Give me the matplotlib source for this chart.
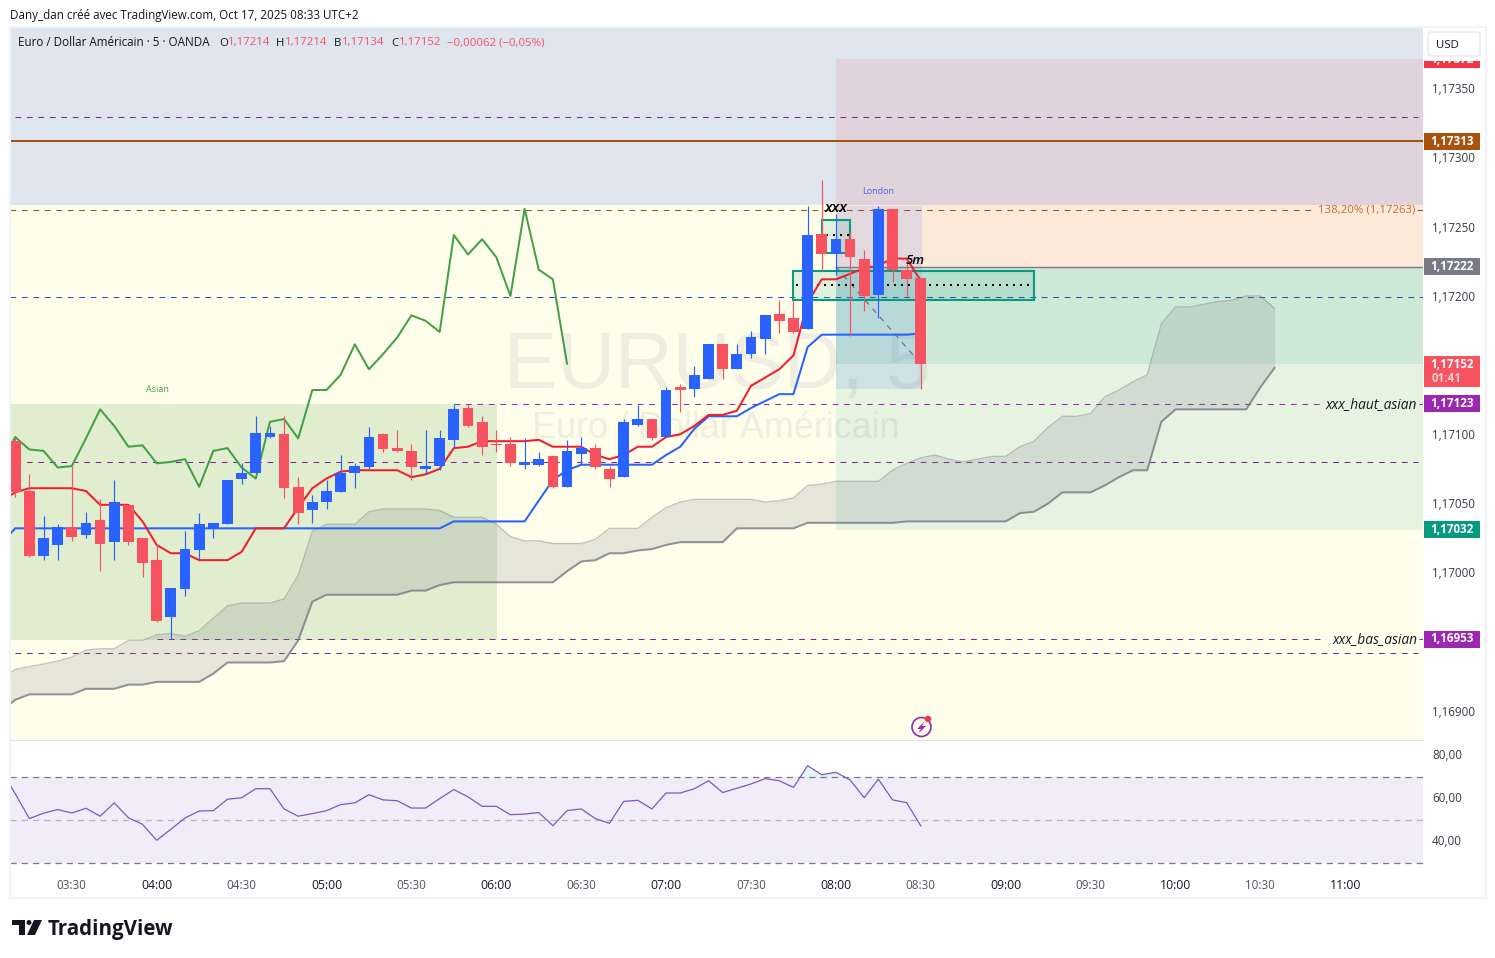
import numpy as np
import matplotlib
matplotlib.use("Agg")
import matplotlib.pyplot as plt
import matplotlib.transforms as mtransforms
from matplotlib.patches import Rectangle, FancyBboxPatch, Circle, Polygon

plt.rcParams['font.family'] = ['Open Sans', 'DejaVu Sans']

W, H = 1495, 958

# candles, 5 min bars, first bar is 03:10
opens = [1.17096, 1.17060, 1.17013, 1.17021, 1.17034, 1.17028, 1.17039, 1.17023, 1.17050, 1.17026,
         1.17010, 1.16969, 1.16989, 1.17017, 1.17033, 1.17036, 1.17069, 1.17073, 1.17099, 1.17101,
         1.17063, 1.17046, 1.17052, 1.17059, 1.17073, 1.17077, 1.17101, 1.17091, 1.17089, 1.17076,
         1.17078, 1.17097, 1.17120, 1.17110, 1.17094, 1.17094, 1.17079, 1.17079, 1.17085, 1.17063,
         1.17087, 1.17091, 1.17076, 1.17070, 1.17108, 1.17112, 1.17099, 1.17135, 1.17134, 1.17141,
         1.17166, 1.17148, 1.17159, 1.17170, 1.17188, 1.17185, 1.17177, 1.17246, 1.17231, 1.17242,
         1.17228, 1.17202, 1.17264, 1.17220, 1.17214]
highs = [1.17098, 1.17072, 1.17042, 1.17036, 1.17078, 1.17045, 1.17054, 1.17068, 1.17050, 1.17026,
         1.17022, 1.16990, 1.17031, 1.17044, 1.17037, 1.17068, 1.17080, 1.17114, 1.17107, 1.17114,
         1.17070, 1.17057, 1.17068, 1.17086, 1.17080, 1.17106, 1.17102, 1.17104, 1.17094, 1.17104,
         1.17104, 1.17123, 1.17123, 1.17114, 1.17104, 1.17099, 1.17098, 1.17088, 1.17086, 1.17097,
         1.17099, 1.17094, 1.17078, 1.17112, 1.17122, 1.17112, 1.17135, 1.17137, 1.17150, 1.17166,
         1.17166, 1.17166, 1.17176, 1.17187, 1.17198, 1.17198, 1.17266, 1.17285, 1.17260, 1.17248,
         1.17234, 1.17266, 1.17264, 1.17228, 1.17214]
lows = [1.17056, 1.17012, 1.17010, 1.17010, 1.17024, 1.17026, 1.17002, 1.17010, 1.17021, 1.16998,
        1.16965, 1.16953, 1.16984, 1.17011, 1.17026, 1.17036, 1.17065, 1.17073, 1.17098, 1.17055,
        1.17036, 1.17037, 1.17047, 1.17059, 1.17062, 1.17076, 1.17088, 1.17088, 1.17068, 1.17072,
        1.17075, 1.17091, 1.17106, 1.17086, 1.17088, 1.17078, 1.17076, 1.17078, 1.17062, 1.17063,
        1.17079, 1.17076, 1.17063, 1.17070, 1.17107, 1.17097, 1.17099, 1.17117, 1.17128, 1.17141,
        1.17141, 1.17148, 1.17156, 1.17159, 1.17174, 1.17174, 1.17177, 1.17219, 1.17216, 1.17172,
        1.17190, 1.17185, 1.17211, 1.17200, 1.17134]
closes = [1.17059, 1.17013, 1.17026, 1.17034, 1.17027, 1.17037, 1.17022, 1.17052, 1.17023, 1.17008,
          1.16966, 1.16990, 1.17018, 1.17036, 1.17037, 1.17068, 1.17073, 1.17102, 1.17102, 1.17062,
          1.17044, 1.17052, 1.17060, 1.17073, 1.17078, 1.17099, 1.17090, 1.17089, 1.17077, 1.17078,
          1.17098, 1.17119, 1.17107, 1.17092, 1.17093, 1.17080, 1.17081, 1.17083, 1.17063, 1.17089,
          1.17091, 1.17077, 1.17069, 1.17110, 1.17112, 1.17098, 1.17133, 1.17133, 1.17144, 1.17166,
          1.17148, 1.17159, 1.17171, 1.17187, 1.17183, 1.17175, 1.17245, 1.17231, 1.17242, 1.17229,
          1.17201, 1.17264, 1.17220, 1.17213, 1.17152]

# indicator lines, these start one bar before the first candle
tenkan = [1.17053,
          1.17059, 1.17062, 1.17062, 1.17062, 1.17062, 1.17060, 1.17050, 1.17050, 1.17050, 1.17038,
          1.17021, 1.17015, 1.17015, 1.17010, 1.17010, 1.17010, 1.17016, 1.17033, 1.17033, 1.17033,
          1.17048, 1.17062, 1.17069, 1.17074, 1.17075, 1.17075, 1.17075, 1.17075, 1.17070, 1.17072,
          1.17076, 1.17091, 1.17092, 1.17096, 1.17096, 1.17096, 1.17096, 1.17097, 1.17092, 1.17092,
          1.17092, 1.17086, 1.17083, 1.17086, 1.17092, 1.17092, 1.17099, 1.17101, 1.17107, 1.17115,
          1.17115, 1.17118, 1.17136, 1.17142, 1.17148, 1.17158, 1.17196, 1.17213, 1.17213, 1.17217,
          1.17221, 1.17223, 1.17228, 1.17228, 1.17212]
kijun = [1.17022,
         1.17033, 1.17033, 1.17033, 1.17033, 1.17033, 1.17033, 1.17033, 1.17033, 1.17033, 1.17033,
         1.17033, 1.17033, 1.17033, 1.17033, 1.17033, 1.17033, 1.17033, 1.17033, 1.17033, 1.17033,
         1.17033, 1.17033, 1.17033, 1.17033, 1.17033, 1.17033, 1.17033, 1.17033, 1.17033, 1.17033,
         1.17033, 1.17038, 1.17038, 1.17038, 1.17038, 1.17038, 1.17038, 1.17053, 1.17068, 1.17075,
         1.17079, 1.17079, 1.17079, 1.17079, 1.17079, 1.17079, 1.17086, 1.17092, 1.17105, 1.17114,
         1.17114, 1.17114, 1.17120, 1.17125, 1.17130, 1.17130, 1.17164, 1.17173, 1.17173, 1.17173,
         1.17173, 1.17173, 1.17173, 1.17173, 1.17174]
chikou = closes[24:]

# cloud, runs 25 bars past the last candle
span_up = [1.16924,
           1.16931, 1.16933, 1.16935, 1.16937, 1.16940, 1.16945, 1.16946, 1.16946, 1.16952, 1.16952,
           1.16956, 1.16957, 1.16955, 1.16959, 1.16968, 1.16977, 1.16979, 1.16979, 1.16979, 1.16982,
           1.16999, 1.17031, 1.17036, 1.17036, 1.17036, 1.17045, 1.17047, 1.17047, 1.17047, 1.17047,
           1.17046, 1.17041, 1.17041, 1.17041, 1.17036, 1.17027, 1.17024, 1.17024, 1.17022, 1.17022,
           1.17022, 1.17025, 1.17033, 1.17033, 1.17033, 1.17041, 1.17048, 1.17052, 1.17054, 1.17054,
           1.17054, 1.17054, 1.17054, 1.17052, 1.17053, 1.17055, 1.17064, 1.17065, 1.17067, 1.17067,
           1.17067, 1.17067, 1.17075, 1.17080, 1.17084, 1.17086, 1.17083, 1.17081, 1.17083, 1.17085,
           1.17085, 1.17092, 1.17096, 1.17106, 1.17114, 1.17114, 1.17116, 1.17128, 1.17133, 1.17139,
           1.17144, 1.17181, 1.17193, 1.17193, 1.17195, 1.17197, 1.17198, 1.17201, 1.17201, 1.17192]
span_low = [1.16901,
            1.16909, 1.16913, 1.16913, 1.16913, 1.16913, 1.16917, 1.16917, 1.16917, 1.16920, 1.16920,
            1.16922, 1.16922, 1.16922, 1.16922, 1.16928, 1.16936, 1.16936, 1.16936, 1.16936, 1.16937,
            1.16952, 1.16980, 1.16985, 1.16985, 1.16985, 1.16985, 1.16985, 1.16985, 1.16988, 1.16988,
            1.16992, 1.16994, 1.16994, 1.16994, 1.16994, 1.16994, 1.16994, 1.16994, 1.16994, 1.17002,
            1.17009, 1.17010, 1.17015, 1.17015, 1.17017, 1.17018, 1.17021, 1.17023, 1.17023, 1.17023,
            1.17023, 1.17033, 1.17033, 1.17033, 1.17033, 1.17033, 1.17037, 1.17037, 1.17037, 1.17037,
            1.17037, 1.17037, 1.17037, 1.17038, 1.17038, 1.17038, 1.17038, 1.17038, 1.17038, 1.17038,
            1.17038, 1.17044, 1.17045, 1.17051, 1.17059, 1.17059, 1.17059, 1.17064, 1.17070, 1.17075,
            1.17075, 1.17110, 1.17119, 1.17119, 1.17119, 1.17119, 1.17119, 1.17119, 1.17135, 1.17149]

rsi = [73.4,
       62.4, 50.8, 53.3, 55.0, 53.4, 55.6, 51.9, 58.1, 51.2, 48.1,
       40.7, 45.8, 51.1, 54.3, 54.5, 59.8, 60.5, 64.7, 64.7, 55.3,
       51.9, 53.1, 54.5, 57.3, 58.1, 61.9, 59.5, 59.1, 55.7, 55.7,
       60.1, 64.3, 60.9, 56.5, 56.5, 52.6, 52.9, 53.6, 47.5, 54.5,
       55.3, 50.8, 48.6, 58.8, 59.3, 55.3, 62.7, 62.7, 64.7, 68.4,
       62.9, 64.9, 66.9, 69.4, 68.4, 65.3, 75.4, 71.2, 72.3, 68.8,
       60.5, 69.1, 59.5, 58.2, 47.4]

price_ticks = [1.16900, 1.17000, 1.17050, 1.17100, 1.17200, 1.17250, 1.17300, 1.17350]
rsi_ticks = [40, 60, 80]
time_pos = [4, 10, 16, 22, 28, 34, 40, 46, 52, 58, 64, 70, 76, 82, 88, 94]
time_labels = ['03:30', '04:00', '04:30', '05:00', '05:30', '06:00', '06:30', '07:00',
               '07:30', '08:00', '08:30', '09:00', '09:30', '10:00', '10:30', '11:00']

price_tags = [(1.17313, '#a8530f'), (1.17222, '#787b86'), (1.17123, '#9c27b0'),
              (1.17032, '#089981'), (1.16953, '#9c27b0')]

BLUE = '#2962ff'
RED = '#f7525f'
PURPLE = '#9c27b0'
DARK_PURPLE = '#7b2a96'
TEAL = '#089981'

def x_idx(px):
    return (px - 15.2) / 14.15

def y_price(py):
    return 1.16953 + (639 - py) / 138333

def y_px(p):
    return 639 - (p - 1.16953) * 138333

px_tf = mtransforms.Affine2D().scale(1, -1).translate(0, H)

fig = plt.figure(figsize=(W / 100, H / 100), dpi=100, facecolor='white')
ax = fig.add_axes([10 / W, 1 - 739 / H, 1413 / W, 712 / H])
ax2 = fig.add_axes([10 / W, 1 - 872 / H, 1413 / W, 132 / H], sharex=ax)
tick_up = mtransforms.ScaledTranslation(0, 1.5 / 100, fig.dpi_scale_trans)

left, right = x_idx(10), x_idx(1423)
ax.set_xlim(left, right)
ax.set_ylim(y_price(739), y_price(27))
ax.set_facecolor('#fffeeb')
for a in (ax, ax2):
    for s in a.spines.values():
        s.set_visible(False)

ax.yaxis.tick_right()
ax.set_yticks(price_ticks)
ax.set_yticklabels([('%.5f' % p).replace('.', ',') for p in price_ticks])
ax.tick_params(axis='y', length=0, pad=6.5, labelsize=8.4, labelcolor='#363a45')
ax.tick_params(axis='x', length=0, labelbottom=False)
for lab in ax.get_yticklabels():
    lab.set_transform(lab.get_transform() + tick_up)

# background zones
ax.axhspan(y_price(205), y_price(27), color='#dee5ee', lw=0, zorder=0.5)
ax.add_patch(Rectangle((left, 1.16952), 34.05 - left, 1.17123 - 1.16952, color='#e0edcf', lw=0, zorder=0.6))

wm = dict(transform=px_tf, family='Liberation Sans', color='#efeee0', ha='center', zorder=0.7)
ax.text(717, 388, 'EURUSD, 5', fontsize=57.6, va='baseline', **wm)
ax.text(716, 438, 'Euro / Dollar Américain', fontsize=25.9, va='baseline', **wm)

# position tool
ax.add_patch(Rectangle((58, 1.17222), right - 58, 1.17372 - 1.17222, color='#f23645', alpha=0.10, lw=0, zorder=0.8))
ax.add_patch(Rectangle((58, 1.17032), right - 58, 1.17222 - 1.17032, color=TEAL, alpha=0.10, lw=0, zorder=0.8))
ax.add_patch(Rectangle((58, 1.17152), right - 58, 1.17222 - 1.17152, color=TEAL, alpha=0.10, lw=0, zorder=0.8))
ax.plot([58, right], [1.17222, 1.17222], color='#787b86', lw=1, zorder=1)
ax.plot([58, 64], [1.17222, 1.17152], color='#787b86', lw=1, ls=(0, (4, 4)), zorder=1)

# London session box
ax.add_patch(Rectangle((58, 1.17134), 6.1, 1.17266 - 1.17134, color=BLUE, alpha=0.12, lw=0, zorder=0.9))
ax.text(878, 191, 'London', transform=px_tf, color='#4f62dc', fontsize=6.5, ha='center', va='center')
ax.text(157, 389, 'Asian', transform=px_tf, color='#43a047', fontsize=6.5, ha='center', va='center')

# level lines
dash = (0, (5.5, 5.5))
for p, c, x0, x1 in [(1.17330, DARK_PURPLE, 0, x_idx(1418)), (1.17081, DARK_PURPLE, 0, x_idx(1418)),
                     (1.16943, DARK_PURPLE, 0, x_idx(1418)), (1.17200, '#2a52c0', left, right),
                     (1.17123, PURPLE, 31, x_idx(1320)), (1.17123, PURPLE, x_idx(1419), right),
                     (1.16953, DARK_PURPLE, 10, x_idx(1326)), (1.16953, DARK_PURPLE, x_idx(1419), right),
                     (1.17263, '#8a5a2a', left, x_idx(1314)), (1.17263, '#8a5a2a', x_idx(1417), right)]:
    ax.plot([x0, x1], [p, p], color=c, lw=0.75, ls=dash, zorder=1.1)
ax.plot([left, right], [1.17313, 1.17313], color='#a8530f', lw=1.45, zorder=1.2)

ax.text(1415, 210, '138,20% (1,17263)', transform=px_tf, color='#c4692a', fontsize=8.2, ha='right', va='center')
ax.text(1417, 405, 'xxx_haut_asian', transform=px_tf, color='#131722', fontsize=9.9, style='italic', ha='right', va='center')
ax.text(1417, 640, 'xxx_bas_asian', transform=px_tf, color='#131722', fontsize=9.9, style='italic', ha='right', va='center')

# teal boxes
ax.add_patch(Rectangle((55, 1.17198), 17, 1.17219 - 1.17198, fc=(8 / 255, 153 / 255, 129 / 255, 0.12), ec=TEAL, lw=1.5, zorder=1.3))
ax.add_patch(Rectangle((57, 1.17232), 2, 1.17256 - 1.17232, fc=(8 / 255, 153 / 255, 129 / 255, 0.12), ec=TEAL, lw=1.5, zorder=1.3))
dots = (0, (1, 2.5))
ax.plot([55.2, 71.7], [1.17209, 1.17209], color='black', lw=1.44, ls=dots, zorder=1.4)
ax.plot([57.3, 58.9], [1.17245, 1.17245], color='black', lw=1.44, ls=dots, zorder=1.4)
ax.text(836, 208, 'xxx', transform=px_tf, color='black', fontsize=11, style='italic', fontweight='semibold', ha='center', va='center', zorder=5)
ax.text(915, 260, '5m', transform=px_tf, color='black', fontsize=9.5, style='italic', fontweight='semibold', ha='center', va='center', zorder=5)

# cloud
xc = np.arange(-1, len(span_up) - 1)
ax.fill_between(xc, span_low, span_up, color='#787b86', alpha=0.19, lw=0, zorder=1.5)
ax.plot(xc, span_up, color='#787b86', alpha=0.45, lw=0.9, zorder=1.6)
ax.plot(xc, span_low, color='#787b86', alpha=0.8, lw=1.45, zorder=1.6)

# ichimoku lines
ax.plot(np.arange(-1, len(chikou) - 1), chikou, color='#43a047', lw=1.45, zorder=2)
ax.plot(np.arange(-1, len(kijun) - 1), kijun, color=BLUE, lw=1.45, zorder=2.1)
ax.plot(np.arange(-1, len(tenkan) - 1), tenkan, color='#f01e2c', lw=1.45, zorder=2.2)

# candles
xb = np.arange(len(closes))
o, h, l, c = map(np.array, (opens, highs, lows, closes))
col = np.where(c >= o, BLUE, RED)
ax.vlines(xb, l, h, colors=col, lw=0.85, zorder=3)
ax.bar(xb, np.abs(c - o), bottom=np.minimum(o, c), width=0.76, color=col, lw=0, zorder=3.1)

# RSI pane
xr = np.arange(-1, len(rsi) - 1)
ax2.set_ylim(50 - (872 - 820.3) / 2.15, 50 + (820.3 - 740) / 2.15)
ax2.set_facecolor('white')
ax2.axhspan(30, 70, color='#7e57c2', alpha=0.1, lw=0, zorder=0.5)
ax2.axhline(70, color='#787b86', lw=0.9, ls=(0, (5, 4)), zorder=1)
ax2.axhline(50, color='#787b86', lw=0.9, ls=(0, (5, 4)), alpha=0.5, zorder=1)
ax2.axhline(30, color='#787b86', lw=0.9, ls=(0, (5, 4)), zorder=1)
ax2.fill_between(xr, 70, rsi, where=np.array(rsi) > 70, interpolate=True, color='#089981', alpha=0.1, lw=0, zorder=1.2)
ax2.plot(xr, rsi, color='#7e57c2', lw=0.9, zorder=2)
ax2.yaxis.tick_right()
ax2.set_yticks(rsi_ticks)
ax2.set_yticklabels(['%d,00' % v for v in rsi_ticks])
ax2.tick_params(axis='y', length=0, pad=6.5, labelsize=8.4, labelcolor='#363a45')
for lab in ax2.get_yticklabels():
    lab.set_transform(lab.get_transform() + tick_up)
ax2.set_xticks(time_pos)
ax2.set_xticklabels(time_labels)
ax2.tick_params(axis='x', length=0, pad=5, labelsize=8.4)
for lab in ax2.get_xticklabels():
    if lab.get_text().endswith(':00'):
        lab.set_color('#131722')
        lab.set_fontweight('medium')
        lab.set_fontsize(8.8)
    else:
        lab.set_color('#50535e')

# chart frame
fig.add_artist(Rectangle((9.5, 26.5), 1476, 871, transform=px_tf, fc='none', ec='#f0f3fa', lw=1.5))
fig.add_artist(plt.Line2D([10, 1423], [739.5, 739.5], transform=px_tf, color='#e0e3eb', lw=0.8))

# right hand price tags
tag = dict(transform=px_tf, ha='center', va='center', color='white', fontsize=8.4, fontweight='bold', zorder=6)
fig.add_artist(Rectangle((1424, 52), 56, 16, transform=px_tf, fc='#f23645', ec='none', zorder=5))
fig.text(1452, 59.4, '1,17372', **tag)
fig.add_artist(Rectangle((1424, 28), 58, 33, transform=px_tf, fc='white', ec='none', zorder=7))
fig.add_artist(FancyBboxPatch((1428, 32), 52, 24, boxstyle='round,pad=0,rounding_size=3', transform=px_tf,
                              fc='white', ec='#e0e3eb', lw=0.8, zorder=8))
fig.text(1447, 45, 'USD', transform=px_tf, color='#131722', fontsize=8.2, ha='center', va='center', zorder=9)
for p, colr in price_tags:
    py = y_px(p)
    fig.add_artist(Rectangle((1424, py - 8.5), 56, 17, transform=px_tf, fc=colr, ec='none', zorder=5))
    fig.text(1452, py, ('%.5f' % p).replace('.', ','), **tag)
fig.add_artist(Rectangle((1424, 356), 56, 31, transform=px_tf, fc=RED, ec='none', zorder=5))
fig.text(1452, 364, '1,17152', **tag)
fig.text(1447, 378, '01:41', transform=px_tf, ha='center', va='center', color='#ffd2d6',
         fontsize=8.4, fontweight='bold', zorder=6)

# header and legend
fig.text(10, 16, 'Dany_dan créé avec TradingView.com, Oct 17, 2025 08:33 UTC+2', transform=px_tf,
         color='#131722', fontsize=8.36, ha='left', va='center')
fig.text(18, 43, 'Euro / Dollar Américain · 5 · OANDA', transform=px_tf, color='#131722',
         fontsize=8.36, ha='left', va='center')
for x, s, colr in [(219, 'O', '#131722'), (228, '1,17214', RED), (276, 'H', '#131722'), (285, '1,17214', RED),
                   (334, 'B', '#131722'), (342, '1,17134', RED), (391, 'C', '#131722'), (399, '1,17152', RED),
                   (447, '−0,00062 (−0,05%)', RED)]:
    fig.text(x, 43, s, transform=px_tf, color=colr, fontsize=8.2, ha='left', va='center')

# lightning marker
fig.add_artist(Circle((921.5, 727), 9.5, transform=px_tf, fc='none', ec=PURPLE, lw=1.2, zorder=5))
fig.add_artist(Polygon([(925, 721), (917, 729), (921, 729), (918, 734), (926, 726), (922, 726)],
                       transform=px_tf, fc=PURPLE, ec='none', zorder=5))
fig.add_artist(Circle((928, 719), 3.2, transform=px_tf, fc='#f23645', ec='none', zorder=6))

# TradingView logo
logo = '#131722'
fig.add_artist(Polygon([(12, 920), (25, 920), (25, 935), (19, 935), (19, 925), (12, 925)],
                       transform=px_tf, fc=logo, ec='none'))
fig.add_artist(Circle((29, 922.5), 2.5, transform=px_tf, fc=logo, ec='none'))
fig.add_artist(Polygon([(34, 920), (42, 920), (35, 935), (27, 935)], transform=px_tf, fc=logo, ec='none'))
fig.text(48, 930, 'TradingView', transform=px_tf, color=logo, fontsize=14.8, fontweight='bold',
         ha='left', va='center')

fig.savefig('out.png', dpi=100)
